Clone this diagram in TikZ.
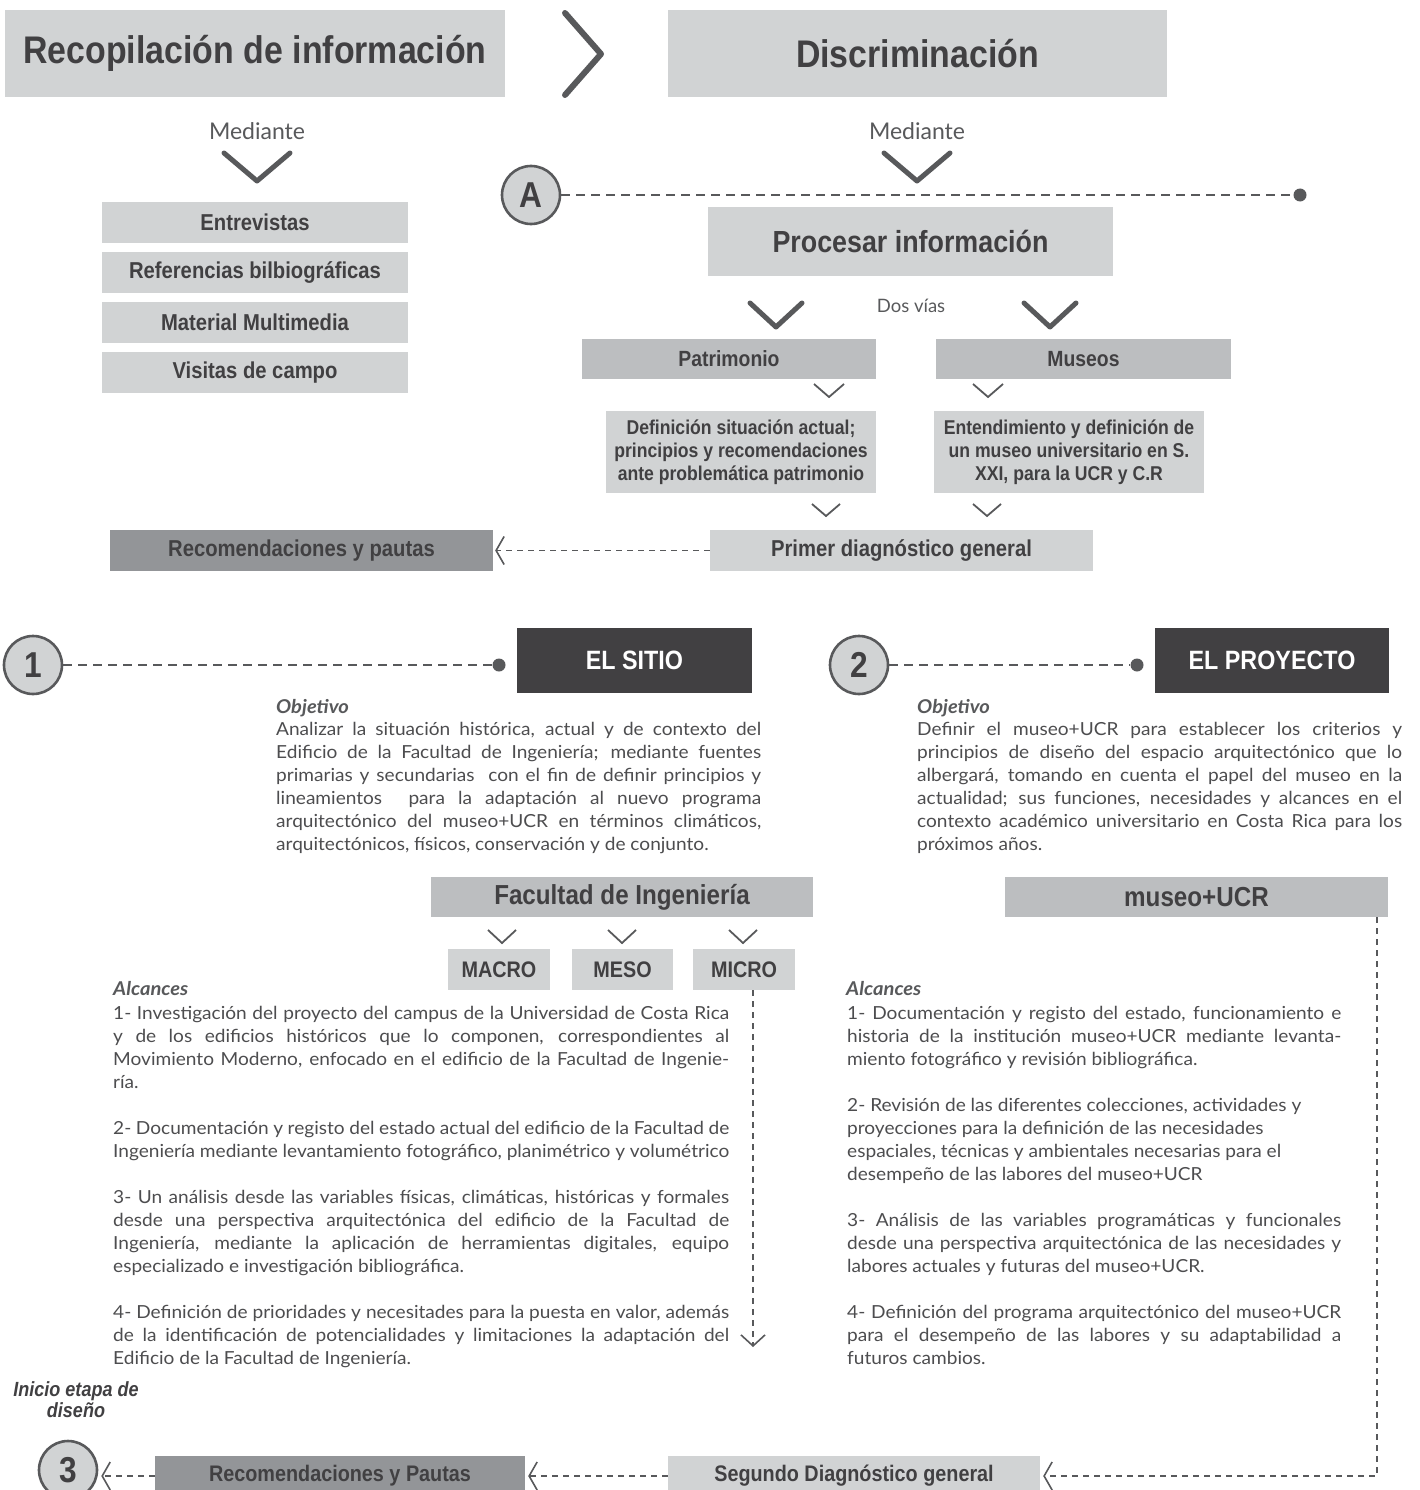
\documentclass[tikz,border=0pt]{standalone}
\usepackage{fontspec}
\setmainfont{Lato}
\newfontfamily\bodyfam[FakeStretch=1.06]{Lato}
\newfontfamily\condf[FakeStretch=0.88]{Liberation Sans}
\usetikzlibrary{arrows.meta}
\definecolor{lg}{HTML}{D1D3D4}
\definecolor{mg}{HTML}{BCBEC0}
\definecolor{dg}{HTML}{939598}
\definecolor{kg}{HTML}{414042}
\definecolor{tx}{HTML}{414042}
\definecolor{ln}{HTML}{58595B}
\definecolor{bd}{HTML}{4D4D4F}
\setlength\parindent{0pt}
\hbadness=10000 \tolerance=9999 \hfuzz=80pt
\newcommand\hdf[1]{\condf\bfseries\fontsize{#1}{#1}\selectfont}
\newcommand\hdfl[2]{\condf\bfseries\fontsize{#1}{#2}\selectfont}
\newcommand\bodyf{\bodyfam\fontsize{18}{23}\selectfont}
\begin{document}
\begin{tikzpicture}[x=1pt,y=-1pt,
  box/.style={rectangle, inner sep=0pt, text=tx},
  lbox/.style={box, fill=lg},
  mbox/.style={box, fill=mg},
  dbox/.style={box, fill=dg},
  kbox/.style={box, fill=kg, text=white},
  chev/.style={draw=ln, line width=5pt, line cap=round, line join=round},
  schev/.style={draw=ln, line width=1.8pt},
  dline/.style={draw=ln, line width=2.5pt, dash pattern=on 9pt off 6pt},
  tline/.style={draw=ln, line width=1.6pt, dash pattern=on 6pt off 5pt},
  circ/.style={circle, draw=ln, line width=2.6pt, fill=lg, minimum size=58pt, inner sep=0pt, text=tx, font=\hdf{36}},
  dot/.style={circle, fill=ln, minimum size=13pt, inner sep=0pt},
  barb/.style={-{Straight Barb[length=8pt,width=28pt]}},
  vbarb/.style={-{Straight Barb[length=11pt,width=24pt]}},
  txt/.style={inner sep=0pt, text=ln},
  lab/.style={inner sep=0pt, text=ln, font=\bodyfam\bfseries\itshape\fontsize{19}{19}\selectfont},
  para/.style={inner sep=0pt, align=justify, text=bd, font=\bodyf, anchor=north west}
]
\useasboundingbox (0,0) rectangle (1419,1490);
\clip (0,0) rectangle (1419,1490);
\fill[white] (0,0) rectangle (1419,1490);

% ---------- top row
\node[lbox, minimum width=500pt, minimum height=87pt, font=\hdf{38.5}] (rec) at (255,53.5) {Recopilación de información};
\node[lbox, minimum width=499pt, minimum height=87pt, font=\hdf{38.5}] (disc) at (917.5,53.5) {Discriminación};
\draw[chev, line width=6pt] (565,13) -- (601,54) -- (565,95);

\node[txt, font=\fontsize{23}{23}\selectfont] (med1) at (257,131) {Mediante};
\draw[chev] (224,153) -- (257,181) -- (290,153);
\node[lbox, minimum width=306pt, minimum height=41pt, font=\hdf{23}] (ent) at (255,222.5) {Entrevistas};
\node[lbox, minimum width=306pt, minimum height=41pt, font=\hdf{23}] (ref) at (255,272.5) {Referencias bilbiográficas};
\node[lbox, minimum width=306pt, minimum height=41pt, font=\hdf{23}] (mat) at (255,322.5) {Material Multimedia};
\node[lbox, minimum width=306pt, minimum height=41pt, font=\hdf{23}] (vis) at (255,372.5) {Visitas de campo};

\node[txt, font=\fontsize{23}{23}\selectfont] (med2) at (917,131) {Mediante};
\draw[chev] (884,153) -- (917,181) -- (950,153);

\node[circ] (cA) at (531,195) {A};
\node[dot] (dA) at (1300,195) {};
\draw[dline] (cA) -- (dA);

\node[lbox, minimum width=405pt, minimum height=69pt, font=\hdf{30.5}] (proc) at (910.5,241.5) {Procesar información};
\draw[chev] (750,303) -- (776,327) -- (802,303);
\draw[chev] (1024,303) -- (1050,327) -- (1076,303);
\node[txt, font=\fontsize{18.5}{18.5}\selectfont] (dos) at (911,306) {Dos vías};

\node[mbox, minimum width=294pt, minimum height=40pt, font=\hdf{22}] (pat) at (729,359) {Patrimonio};
\node[mbox, minimum width=295pt, minimum height=40pt, font=\hdf{22}] (mus) at (1083.5,359) {Museos};
\draw[schev] (814,384) -- (829,397) -- (844,384);
\draw[schev] (973,384) -- (988,397) -- (1003,384);

\node[lbox, minimum width=270pt, minimum height=82pt, align=center, font=\hdfl{20}{23}] (def) at (741,452) {Definición situación actual;\\ principios y recomendaciones\\ ante problemática patrimonio};
\node[lbox, minimum width=270pt, minimum height=82pt, align=center, font=\hdfl{20}{23}] (ent2) at (1069,452) {Entendimiento y definición de\\ un museo universitario en S.\\ XXI, para la UCR y C.R};
\draw[schev] (812,504) -- (826,516) -- (840,504);
\draw[schev] (973,504) -- (987,516) -- (1001,504);

\node[lbox, minimum width=383pt, minimum height=41pt, font=\hdf{23}] (prim) at (901.5,550.5) {Primer diagnóstico general};
\node[dbox, minimum width=383pt, minimum height=41pt, font=\hdf{23}] (rec1) at (301.5,550.5) {Recomendaciones y pautas};
\draw[tline, barb, shorten >=2pt] (prim) -- (rec1);

% ---------- section headers
\node[circ] (c1) at (33,665) {1};
\node[dot] (d1) at (499,665) {};
\draw[dline] (c1) -- (d1);
\node[kbox, minimum width=235pt, minimum height=65pt, font=\hdf{26.5}] (sitio) at (634.5,660.5) {EL SITIO};

\node[circ] (c2) at (859,665) {2};
\node[dot] (d2) at (1137,665) {};
\draw[dline] (c2) -- (d2);
\node[kbox, minimum width=234pt, minimum height=65pt, font=\hdf{26.5}] (proy) at (1272,660.5) {EL PROYECTO};

% ---------- objetivos
\node[lab, anchor=base west] (objL) at (276,713) {Objetivo};
\node[para, text width=485pt] (pobjL) at (276,722) {\rule{0pt}{13pt}Analizar la situación histórica, actual y de contexto del\linebreak
Edificio de la Facultad de Ingeniería; mediante fuentes\linebreak
primarias y secundarias\ \ con el fin de definir principios y\linebreak
lineamientos\ \ para la adaptación al nuevo programa\linebreak
arquitectónico del museo+UCR en términos climáticos,\linebreak
arquitectónicos, físicos, conservación y de conjunto.};

\node[lab, anchor=base west] (objR) at (917,713) {Objetivo};
\node[para, text width=485pt] (pobjR) at (917,722) {\rule{0pt}{13pt}Definir el museo+UCR para establecer los criterios y\linebreak
principios de diseño del espacio arquitectónico que lo\linebreak
albergará, tomando en cuenta el papel del museo en la\linebreak
actualidad; sus funciones, necesidades y alcances en el\linebreak
contexto académico universitario en Costa Rica para los\linebreak
próximos años.};

% ---------- facultad / museo
\node[mbox, minimum width=382pt, minimum height=40pt, font=\hdf{27.5}] (fac) at (622,897) {Facultad de Ingeniería};
\node[mbox, minimum width=383pt, minimum height=40pt, font=\hdf{27.5}] (museo) at (1196.5,897) {museo+UCR};
\draw[schev] (488,930) -- (502,943) -- (516,930);
\draw[schev] (608,930) -- (622,943) -- (636,930);
\draw[schev] (729,930) -- (743,943) -- (757,930);
\node[lbox, minimum width=102pt, minimum height=41pt, font=\hdf{22.5}] (macro) at (499,969.5) {MACRO};
\node[lbox, minimum width=101pt, minimum height=41pt, font=\hdf{22.5}] (meso) at (622.5,969.5) {MESO};
\node[lbox, minimum width=102pt, minimum height=41pt, font=\hdf{22.5}] (micro) at (744,969.5) {MICRO};

\coordinate (mtip) at (753,1347);
\draw[tline, vbarb] (micro.south -| mtip) -- (mtip);

% ---------- alcances
\node[lab, anchor=base west] (alcL) at (113,995) {Alcances};
\node[para, text width=616pt] (palcL) at (113,1006) {\rule{0pt}{13pt}1- Investigación del proyecto del campus de la Universidad de Costa Rica\linebreak
y de los edificios históricos que lo componen, correspondientes al\linebreak
Movimiento Moderno, enfocado en el edificio de la Facultad de Ingenie-\linebreak
ría.\par\vspace{23pt}
2- Documentación y registo del estado actual del edificio de la Facultad de\linebreak
Ingeniería mediante levantamiento fotográfico, planimétrico y volumétrico\par\vspace{23pt}
3- Un análisis desde las variables físicas, climáticas, históricas y formales\linebreak
desde una perspectiva arquitectónica del edificio de la Facultad de\linebreak
Ingeniería, mediante la aplicación de herramientas digitales, equipo\linebreak
especializado e investigación bibliográfica.\par\vspace{23pt}
4- Definición de prioridades y necesitades para la puesta en valor, además\linebreak
de la identificación de potencialidades y limitaciones la adaptación del\linebreak
Edificio de la Facultad de Ingeniería.};

\node[lab, anchor=base west] (alcR) at (846,995) {Alcances};
\node[para, text width=494pt] (palcR) at (847,1006) {\rule{0pt}{13pt}1- Documentación y registo del estado, funcionamiento e\linebreak
historia de la institución museo+UCR mediante levanta-\linebreak
miento fotográfico y revisión bibliográfica.\par\vspace{23pt}
2- Revisión de las diferentes colecciones, actividades y\newline
proyecciones para la definición de las necesidades\newline
espaciales, técnicas y ambientales necesarias para el\newline
desempeño de las labores del museo+UCR\par\vspace{23pt}
3- Análisis de las variables programáticas y funcionales\linebreak
desde una perspectiva arquitectónica de las necesidades y\linebreak
labores actuales y futuras del museo+UCR.\par\vspace{23pt}
4- Definición del programa arquitectónico del museo+UCR\linebreak
para el desempeño de las labores y su adaptabilidad a\linebreak
futuros cambios.};

% ---------- bottom row
\node[lbox, minimum width=372pt, minimum height=40pt, font=\hdf{22.5}] (seg) at (854,1476) {Segundo Diagnóstico general};
\node[dbox, minimum width=370pt, minimum height=40pt, font=\hdf{22.5}] (rec2) at (340,1476) {Recomendaciones y Pautas};
\node[circ] (c3) at (68,1470) {3};
\node[align=center, inner sep=0pt, text=tx, font=\condf\bfseries\itshape\fontsize{20.5}{21}\selectfont] (ini) at (76,1400) {Inicio etapa de\\ diseño};

\coordinate (mcor) at (1377,1476);
\draw[tline, barb, shorten >=3pt] (museo.south -| mcor) -- (mcor) -- (seg.east);
\draw[tline, barb, shorten >=3pt] (seg) -- (rec2);
\draw[tline, barb, shorten >=3pt] (rec2.west) -- (c3.east |- rec2.west);
\end{tikzpicture}
\end{document}
